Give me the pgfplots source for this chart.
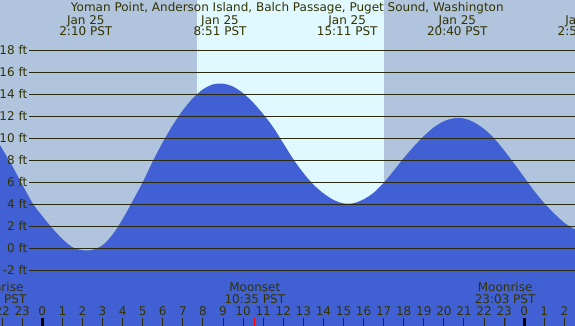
\documentclass[border=0pt]{standalone}
\usepackage{pgfplots}
\pgfplotsset{compat=1.18}
\usepgfplotslibrary{fillbetween}
\usepackage{pgfplotstable}
\usepackage{fontspec}
\setmainfont{DejaVu Sans}
\definecolor{night}{HTML}{B0C4DE}
\definecolor{day}{HTML}{E0F8FF}
\definecolor{tidec}{HTML}{4060D4}
\definecolor{txt}{HTML}{333300}
\definecolor{gridc}{HTML}{2A2A10}

\pgfplotstableread{
t h
-2.5 10.5
-2.0 9.05
-1.5 7.5
-1.0 5.8
-0.5 4.15
0.0 2.92
0.5 1.82
1.0 0.85
1.5 0.1
2.0 -0.17
2.5 -0.14
3.0 0.28
3.5 1.25
4.0 2.65
4.5 4.3
5.0 6.0
5.5 7.9
6.0 9.65
6.5 11.2
7.0 12.55
7.5 13.65
8.0 14.45
8.5 14.9
9.0 14.97
9.5 14.7
10.0 14.1
10.5 13.25
11.0 12.2
11.5 11.0
12.0 9.55
12.5 8.1
13.0 6.85
13.5 5.8
14.0 5.0
14.5 4.4
15.0 4.08
15.5 4.1
16.0 4.45
16.5 5.05
17.0 5.95
17.5 7.05
18.0 8.2
18.5 9.25
19.0 10.2
19.5 11.0
20.0 11.55
20.5 11.82
21.0 11.8
21.5 11.45
22.0 10.85
22.5 10.0
23.0 8.9
23.5 7.7
24.0 6.45
24.5 5.2
25.0 4.1
25.5 3.15
26.0 2.32
26.5 1.76
27.0 1.6
}\tidedata

\pgfplotstableread{
t h
-2.5 -8
27.0 -8
}\botdata

\begin{document}
\begin{tikzpicture}[every node/.style={font=\fontsize{12bp}{14bp}\selectfont, text=txt}]
\begin{axis}[name=ax, width=575bp, height=326bp, scale only axis,
  set layers=axis on top,
  xmin=-2.1066, xmax=26.529, ymin=-7.064, ymax=22.573,
  axis line style={draw=none},
  ytick=\empty,
  xtick={-2,...,26},
  xticklabels={22,23,0,1,2,3,4,5,6,7,8,9,10,11,12,13,14,15,16,17,18,19,20,21,22,23,0,1,2},
  xtick pos=bottom, tick align=inside,
  major tick length=8bp, minor tick length=8bp,
  x tick style={draw=gridc, line width=1bp},
  minor xtick={10.583,23.05},
  minor x tick style={draw=red, line width=1bp},
  extra x ticks={0,24}, extra x tick labels={},
  extra x tick style={x tick style={draw=black, line width=3.3bp}},
  xticklabel style={anchor=base, yshift=10.3bp, inner sep=0pt, font=\fontsize{12bp}{14bp}\selectfont, text=txt},
  clip=true,
]
\addplot[fill=night, draw=none, on layer=axis background] coordinates {(-3,-8) (7.703,-8) (7.703,23) (-3,23)};
\addplot[fill=day, draw=none, on layer=axis background] coordinates {(7.703,-8) (17.017,-8) (17.017,23) (7.703,23)};
\addplot[fill=night, draw=none, on layer=axis background] coordinates {(17.017,-8) (27,-8) (27,23) (17.017,23)};
\addplot[name path=tide, draw=none, smooth] table {\tidedata};
\addplot[name path=bot, draw=none] table {\botdata};
\addplot[fill=tidec, draw=none] fill between[of=tide and bot];

\pgfplotsinvokeforeach{-2,0,...,18}{
  \draw[gridc, line width=1bp] (axis cs:-0.66,#1) -- (axis cs:26.6,#1);
  \node[anchor=east, inner sep=0pt] at ([xshift=27.5bp]axis cs:-2.1066,#1) {#1 ft};
}

\node[anchor=base] at (axis cs:12.2,21.53) {Yoman Point, Anderson Island, Balch Passage, Puget Sound, Washington};
\node[anchor=base] at (axis cs:2.1667,20.39) {Jan 25};
\node[anchor=base] at (axis cs:2.1667,19.33) {2:10 PST};
\node[anchor=base] at (axis cs:8.85,20.39) {Jan 25};
\node[anchor=base] at (axis cs:8.85,19.33) {8:51 PST};
\node[anchor=base] at (axis cs:15.1833,20.39) {Jan 25};
\node[anchor=base] at (axis cs:15.1833,19.33) {15:11 PST};
\node[anchor=base] at (axis cs:20.6667,20.39) {Jan 25};
\node[anchor=base] at (axis cs:20.6667,19.33) {20:40 PST};
\node[anchor=base] at (axis cs:26.983,20.39) {Jan 26};
\node[anchor=base] at (axis cs:26.983,19.33) {2:59 PST};

\node[anchor=base] at (axis cs:-2.3,-3.945) {Moonrise};
\node[anchor=base] at (axis cs:-2.3,-5.036) {21:48 PST};
\node[anchor=base] at (axis cs:10.583,-3.945) {Moonset};
\node[anchor=base] at (axis cs:10.583,-5.036) {10:35 PST};
\node[anchor=base] at (axis cs:23.05,-3.945) {Moonrise};
\node[anchor=base] at (axis cs:23.05,-5.036) {23:03 PST};
\end{axis}
\pgfresetboundingbox
\useasboundingbox (ax.south west) rectangle (ax.north east);
\end{tikzpicture}
\end{document}
